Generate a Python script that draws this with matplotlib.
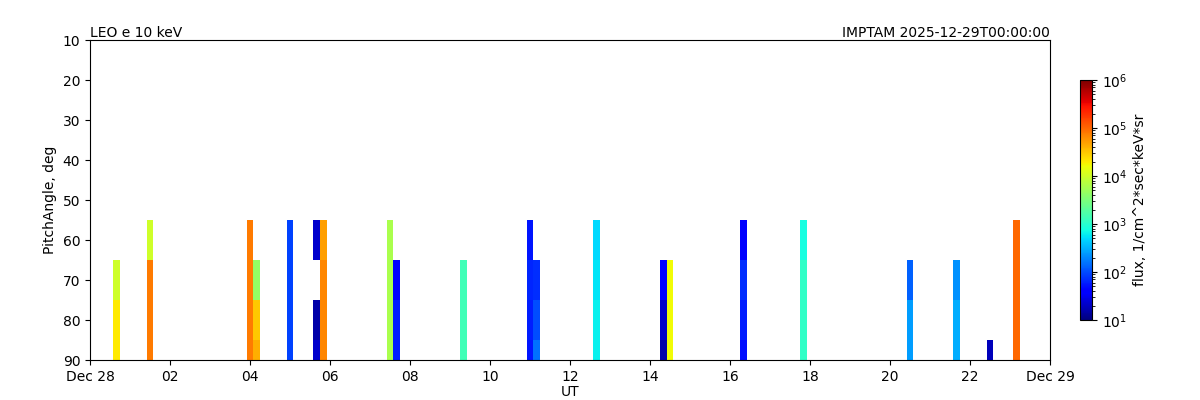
import numpy as np
import matplotlib
matplotlib.use('Agg')
import matplotlib.pyplot as plt
import matplotlib.dates as mdates
from matplotlib.colors import LogNorm
from datetime import datetime, timedelta

# Bins du pitch angle (bords) et centres des passages (minutes depuis 00:00)
pa_edges = [55, 65, 75, 85, 95]
pass_minutes = [40, 90, 240, 250, 300, 340, 350, 450, 460, 560, 660,
                670, 760, 860, 870, 980, 1070, 1230, 1300, 1350, 1390]

# Flux par passage, pour PA 60 / 70 / 80 / 90 (nan = pas de donnée)
nan = np.nan
flux_pa60 = [nan, 1.0e4, 8e4, nan, 90, 22, 5e4, 6e3, nan, nan, 55,
             nan, 500, nan, nan, 40, 770, nan, nan, nan, 1.0e5]
flux_pa70 = [1.0e4, 8e4, 8e4, 4.5e3, 90, nan, 7e4, 6e3, 40, 1.4e3, 65,
             72, 560, 40, 1.6e4, 72, 1.1e3, 125, 215, nan, 1.0e5]
flux_pa80 = [2e4, 8e4, 8e4, 3e4, 90, 15, 7e4, 6e3, 60, 1.4e3, 60,
             100, 630, 21, 1.6e4, 60, 1.1e3, 250, 300, nan, 1.0e5]
flux_pa90 = [2e4, 8e4, 8e4, 4.2e4, 90, 22, 7e4, 6e3, 60, 1.4e3, 55,
             150, 630, 15, 1.6e4, 50, 1.1e3, 250, 300, 18, 1.0e5]

t0 = datetime(2025, 12, 28)
step = 10  # minutes
n_bins = 24 * 60 // step

# Grille complète en temps, remplie de nan
flux = np.full((len(pa_edges) - 1, n_bins), np.nan)
for k, m in enumerate(pass_minutes):
    i = m // step
    for j, col in enumerate([flux_pa60, flux_pa70, flux_pa80, flux_pa90]):
        flux[j, i] = col[k]

t_edges = [t0 + timedelta(minutes=i * step - step / 2) for i in range(n_bins + 1)]
x_edges = mdates.date2num(t_edges)

fig = plt.figure(figsize=(12, 4), dpi=100)
ax = fig.add_axes([0.075, 0.1, 0.8, 0.8])
cax = fig.add_axes([0.9, 0.2, 0.01, 0.6])

norm = LogNorm(vmin=1e1, vmax=1e6)
mesh = ax.pcolormesh(x_edges, pa_edges, np.ma.masked_invalid(flux), cmap='jet', norm=norm)

ax.set_xlim(mdates.date2num(t0), mdates.date2num(t0 + timedelta(days=1)))
ax.set_ylim(90, 10)
ax.set_yticks(np.arange(10, 91, 10))

ax.xaxis.set_major_locator(mdates.HourLocator(byhour=range(0, 24, 2)))


def fmt_date(x, pos=None):
    d = mdates.num2date(x)
    if d.hour == 0:
        return d.strftime('%b %d')
    return d.strftime('%H')


ax.xaxis.set_major_formatter(plt.FuncFormatter(fmt_date))

ax.set_xlabel('UT', labelpad=1)
ax.set_ylabel('PitchAngle, deg')
ax.set_title('LEO e 10 keV', loc='left', fontsize=10, pad=2)
ax.set_title('IMPTAM 2025-12-29T00:00:00', loc='right', fontsize=10, pad=2)

cb = fig.colorbar(mesh, cax=cax)
cb.set_label('flux, 1/cm^2*sec*keV*sr')

fig.savefig('out.png', dpi=100)
